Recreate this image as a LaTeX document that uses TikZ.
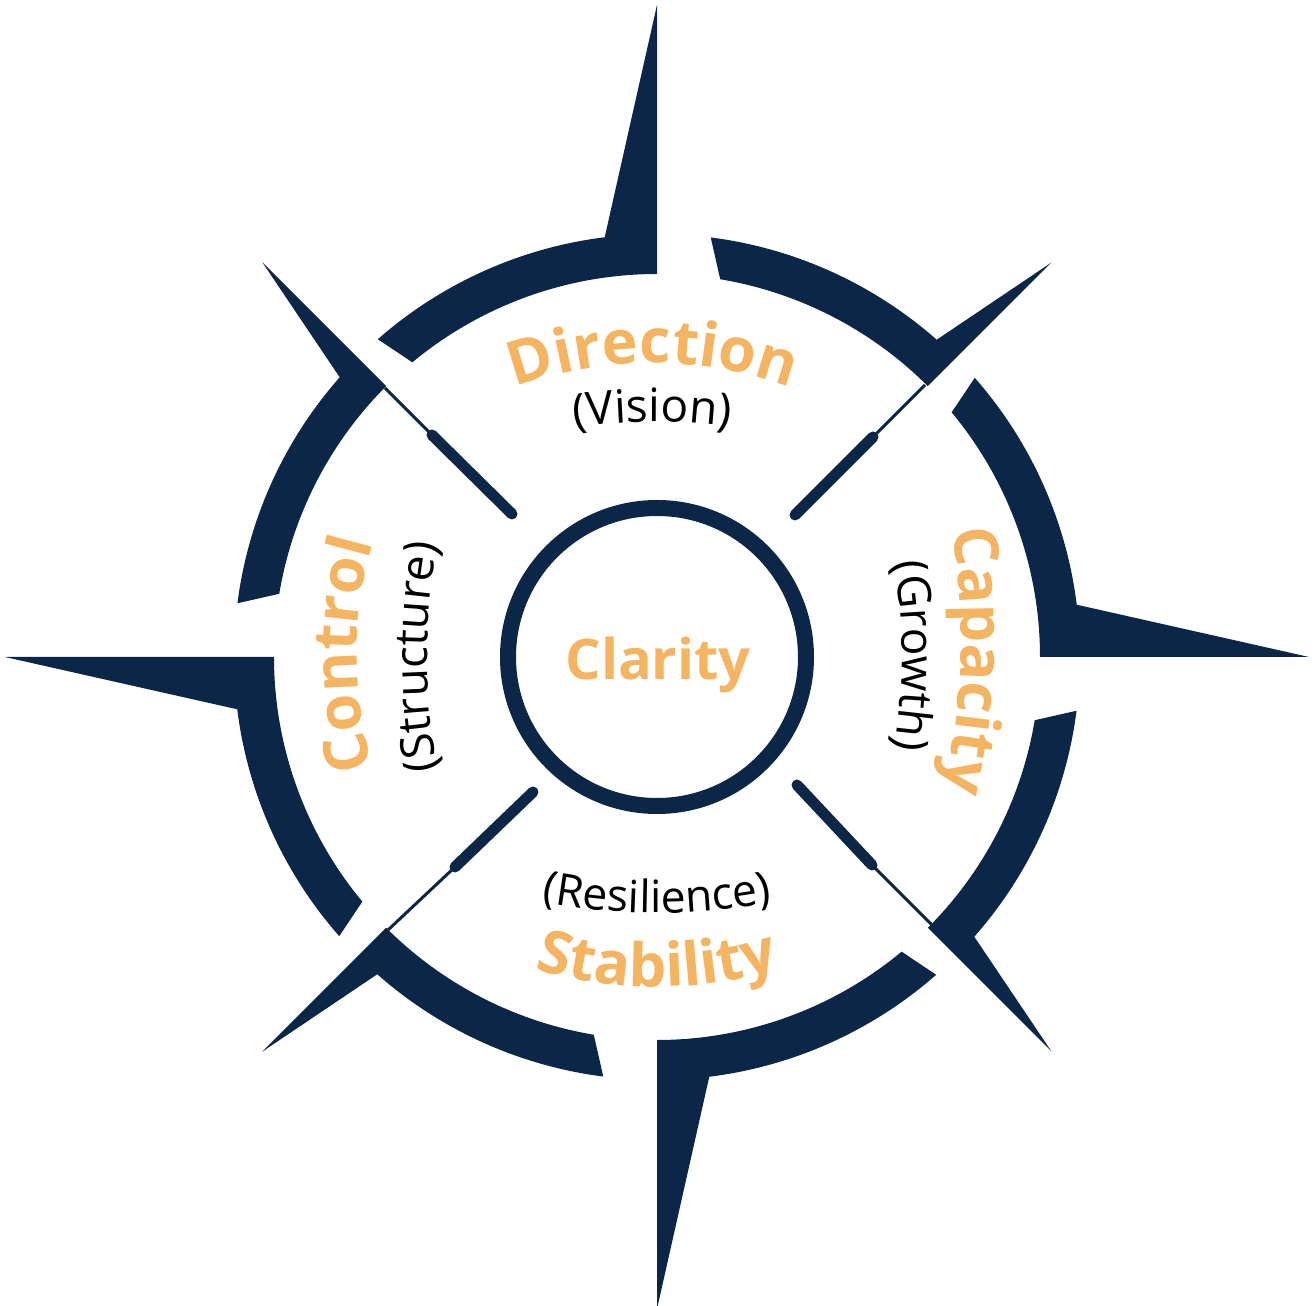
\documentclass[tikz,border=0pt]{standalone}
\usepackage{fontspec}
\setmainfont{Open Sans}
\usetikzlibrary{decorations.text}
\definecolor{navy}{HTML}{0C2647}
\definecolor{accent}{HTML}{F4B461}
\newcommand\ttlfont{\fontsize{61bp}{70bp}\selectfont\bfseries\color{accent}}
\newcommand\stbfont{\fontsize{60bp}{70bp}\selectfont\bfseries\color{accent}}
\newcommand\clarfont{\fontsize{56bp}{64bp}\selectfont\bfseries\color{accent}}
\newcommand\subfont{\fontsize{46bp}{52bp}\selectfont\color{black}}
\newcommand\resfont{\fontsize{44.5bp}{52bp}\selectfont\color{black}}
\begin{document}
\begin{tikzpicture}[x=1bp,y=1bp,
  thickbar/.style={navy, line width=11bp, line cap=round},
  thinbar/.style={navy, line width=3bp},
  curved/.style={decorate, decoration={text along path, text align=center, text={#1}}}]
\useasboundingbox (-657,-649) rectangle (657,657);
% ring pieces with spikes
\foreach \k in {0,...,7}{
  \ifodd\k \def\rtip{558}\def\sofs{3.6}\def\gout{7.3}\def\gin{9.5}%
  \else \def\rtip{652}\def\sofs{7.1}\def\gout{3.7}\def\gin{5.3}\fi
  \pgfmathsetmacro\aa{45*\k}
  \pgfmathsetmacro\ei{\aa+45-\gin}
  \pgfmathsetmacro\eo{\aa+45-\gout}
  \pgfmathsetmacro\so{\aa+\sofs}
  \fill[navy] (\aa:\rtip) -- (\aa:383) arc[start angle=\aa, end angle=\ei, radius=383]
     -- (\eo:423) arc[start angle=\eo, end angle=\so, radius=423] -- cycle;
}
% hub
\node[draw=navy, line width=16bp, circle, minimum size=298bp, inner sep=0pt] (hub) at (0,0) {};
\node[anchor=base, font=\clarfont, inner sep=0pt] (clarity) at (1,-23) {Clarity};
% diagonal bars
\coordinate (nwR) at (-272,269); \coordinate (nwS) at (-225,222); \coordinate (nwE) at (-145,143);
\coordinate (neR) at (268,272);  \coordinate (neS) at (216,220);  \coordinate (neE) at (138,142);
\coordinate (seR) at (275,-268); \coordinate (seS) at (215,-208); \coordinate (seE) at (140,-128);
\coordinate (swR) at (-269,-273);\coordinate (swS) at (-202,-210);\coordinate (swE) at (-124,-135);
\foreach \d in {nw,ne,se,sw}{
  \draw[thinbar] (\d R) -- (\d S);
  \draw[thickbar] (\d S) -- (\d E);
}
% titles
\path[curved={|\ttlfont|Direction}] ([shift={(-4,-106)}]120:400) arc[start angle=120, end angle=60, radius=400];
\path[curved={|\ttlfont|Capacity}] ([shift={(-396,20)}]18.1:700) arc[start angle=18.1, end angle=-21.9, radius=700];
\path[curved={|\stbfont|Stability}] ([shift={(0,90)}]240:420) arc[start angle=240, end angle=300, radius=420];
\path[curved={|\ttlfont|Control}] ([shift={(100,2)}]210:400) arc[start angle=210, end angle=150, radius=400];
% subtitles
\path[curved={|\subfont|(Vision)}] ([shift={(-5,-365)}]110:600) arc[start angle=110, end angle=70, radius=600];
\path[curved={|\subfont|(Growth)}] ([shift={(-355,1)}]20:600) arc[start angle=20, end angle=-20, radius=600];
\path[curved={|\resfont|(Resilience)}] ([shift={(0,344)}]250:600) arc[start angle=250, end angle=290, radius=600];
\path[curved={|\subfont|(Structure)}] ([shift={(370,0)}]200:600) arc[start angle=200, end angle=160, radius=600];
\end{tikzpicture}
\end{document}
